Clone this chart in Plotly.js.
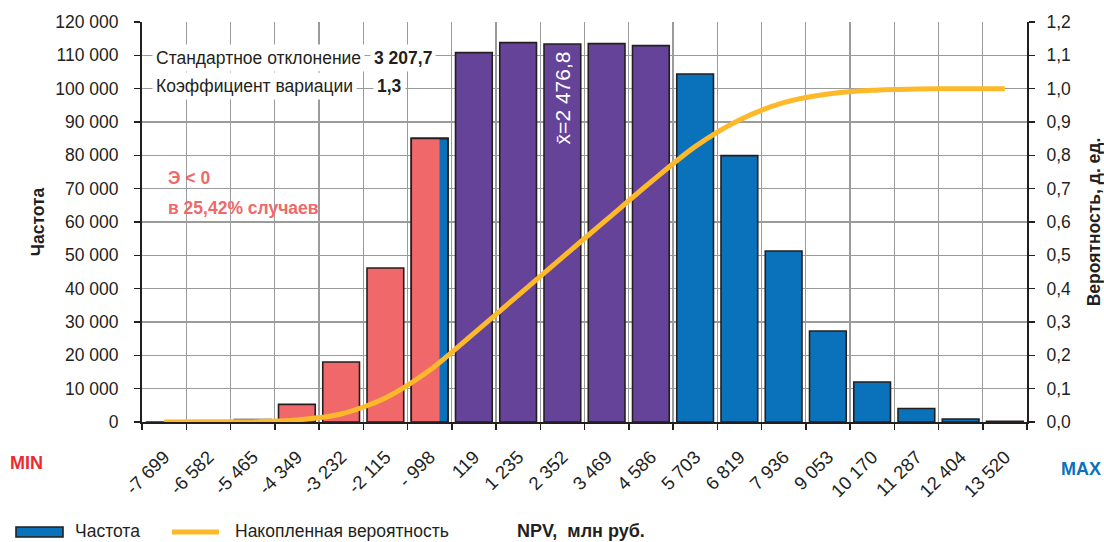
<!DOCTYPE html>
<html>
<head>
<meta charset="utf-8">
<script src="https://cdn.plot.ly/plotly-3.0.1.min.js"></script>
<style>html,body{margin:0;padding:0;background:#fff;}#chart{width:1104px;height:542px;}</style>
</head>
<body>
<div id="chart"></div>
<script>
// ---- data ----
const categories = ['-7 699','-6 582','-5 465','-4 349','-3 232','-2 115','- 998','119','1 235','2 352','3 469','4 586','5 703','6 819','7 936','9 053','10 170','11 287','12 404','13 520'];
const frequency = [0, 60, 700, 5300, 18000, 46200, 85100, 110800, 113800, 113400, 113500, 112900, 104400, 79900, 51300, 27300, 12000, 4050, 900, 200];
// group of each bin: n = NPV<0, s = split bin, m = within one sigma of the mean, p = positive tail
const binGroup = ['n','n','n','n','n','n','s','m','m','m','m','m','p','p','p','p','p','p','p','p'];
const cumulativeProb = [0, 0.0005, 0.001, 0.006, 0.024, 0.072, 0.155, 0.266, 0.38, 0.494, 0.607, 0.72, 0.826, 0.906, 0.958, 0.984, 0.995, 0.999, 1.0, 1.0];
const negativeShareOfSplitBin = 0.77;
const stdDevText = '3 207,7';
const cvText = '1,3';
const meanText = 'x̄=2 476,8';
const lossText1 = 'Э < 0';
const lossText2 = 'в 25,42% случаев';
const freqName = 'Частота';
const cumName = 'Накопленная вероятность';
const xTitle = 'NPV,\u00a0 млн руб.';

// ---- styles ----
const RED = '#F0686A', PURPLE = '#654399', BLUE = '#0A72BA', YELLOW = '#FDB92A', DARK = '#231F20', GRID = '#9B9B9B';
const FONT = 'Liberation Sans, Arial, sans-serif';
const colorOf = {n: RED, s: 'rgba(0,0,0,0)', m: PURPLE, p: BLUE};
const barW = 0.83;
const splitIdx = binGroup.indexOf('s');

const outline = {color: DARK, width: 1.6};

const traces = [
  { // blue (positive) part of the split bin
    type: 'bar', name: freqName, x: [categories[splitIdx]], y: [frequency[splitIdx]],
    width: barW, offset: -barW / 2,
    marker: {color: BLUE, line: outline}, showlegend: false, hoverinfo: 'skip'
  },
  { // red (negative) part of the split bin
    type: 'bar', name: 'Э<0', x: [categories[splitIdx]], y: [frequency[splitIdx]],
    width: barW * negativeShareOfSplitBin, offset: -barW / 2,
    marker: {color: RED, line: {width: 0}}, showlegend: false, hoverinfo: 'skip'
  },
  { // all histogram bars
    type: 'bar', name: freqName, x: categories, y: frequency,
    width: barW, offset: -barW / 2,
    marker: {color: binGroup.map(g => colorOf[g]), line: outline}, showlegend: false
  },
  {
    type: 'scatter', mode: 'lines', name: cumName,
    x: categories, y: cumulativeProb, yaxis: 'y2', showlegend: false,
    line: {color: YELLOW, width: 5, shape: 'spline', smoothing: 0.8}
  }
];

const tickFont = {family: FONT, size: 17.5, color: DARK};
const titleFont = {family: FONT, size: 17.5, color: DARK, weight: 'bold'};
const textFont = {family: FONT, size: 17.5, color: DARK};

// pixel -> paper helpers for the plot box (l=142, w=885, t=22, h=400)
const px = v => (v - 142) / 885;
const py = v => (422 - v) / 400;

const layout = {
  width: 1104, height: 542,
  margin: {l: 142, r: 77, t: 22, b: 120, autoexpand: false},
  paper_bgcolor: '#fff', plot_bgcolor: '#fff',
  barmode: 'overlay',
  showlegend: false,
  font: {family: FONT, size: 17, color: DARK},
  separators: ', ',
  xaxis: {
    type: 'category', categoryorder: 'array', categoryarray: categories,
    tickson: 'boundaries', range: [-0.5, 19.5], automargin: false,
    tickangle: -45, tickfont: {family: FONT, size: 18.5, color: DARK}, ticklabelstandoff: 15,
    ticks: 'outside', ticklen: 6, tickwidth: 1.5, tickcolor: DARK,
    showgrid: true, gridcolor: GRID, gridwidth: 1.3,
    showline: true, linecolor: DARK, linewidth: 2
  },
  yaxis: {
    range: [0, 120000], dtick: 10000, tickformat: ',.0f', automargin: false,
    tickfont: tickFont, ticklabelstandoff: 12,
    ticks: 'outside', ticklen: 6, tickwidth: 1.5, tickcolor: DARK,
    showgrid: true, gridcolor: GRID, gridwidth: 1.3, zeroline: false,
    showline: true, linecolor: DARK, linewidth: 2,
    title: {text: freqName, font: titleFont, standoff: 6}
  },
  yaxis2: {
    overlaying: 'y', side: 'right', range: [0, 1.2], dtick: 0.1, tickformat: '.1f', automargin: false,
    tickfont: tickFont, ticklabelstandoff: 8,
    ticks: 'outside', ticklen: 6, tickwidth: 1.5, tickcolor: DARK,
    showgrid: false, zeroline: false,
    showline: true, linecolor: DARK, linewidth: 2,
    title: {text: 'Вероятность, д. ед.', font: titleFont, standoff: 23}
  },
  shapes: [
    // white backing box behind the "Э < 0" note
    {type: 'rect', layer: 'between', xref: 'paper', yref: 'paper',
     x0: px(158), x1: px(334), y0: py(229), y1: py(159), fillcolor: '#fff', line: {width: 0}},
    // legend swatches
    {type: 'rect', xref: 'paper', yref: 'paper',
     x0: px(16), x1: px(63), y0: py(537), y1: py(527), fillcolor: BLUE, line: {color: DARK, width: 1.6}},
    {type: 'line', xref: 'paper', yref: 'paper',
     x0: px(172), x1: px(219), y0: py(532), y1: py(532), line: {color: YELLOW, width: 5}}
  ],
  annotations: [
    {xref: 'paper', yref: 'y', x: px(152), y: 109200, xanchor: 'left', yanchor: 'middle', showarrow: false,
     text: 'Стандартное отклонение', font: textFont, bgcolor: '#fff', borderpad: 3},
    {xref: 'paper', yref: 'y', x: px(370), y: 109200, xanchor: 'left', yanchor: 'middle', showarrow: false,
     text: '<b>' + stdDevText + '</b>', font: textFont, bgcolor: '#fff', borderpad: 3},
    {xref: 'paper', yref: 'y', x: px(152), y: 100800, xanchor: 'left', yanchor: 'middle', showarrow: false,
     text: 'Коэффициент вариации', font: textFont, bgcolor: '#fff', borderpad: 3},
    {xref: 'paper', yref: 'y', x: px(373), y: 100800, xanchor: 'left', yanchor: 'middle', showarrow: false,
     text: '<b>' + cvText + '</b>', font: textFont, bgcolor: '#fff', borderpad: 3},
    {xref: 'paper', yref: 'y', x: px(166), y: 73200, xanchor: 'left', yanchor: 'middle', showarrow: false,
     text: '<b>' + lossText1 + '</b>', font: {family: FONT, size: 17.5, color: RED}},
    {xref: 'paper', yref: 'y', x: px(166), y: 64200, xanchor: 'left', yanchor: 'middle', showarrow: false,
     text: '<b>' + lossText2 + '</b>', font: {family: FONT, size: 17.5, color: RED}},
    {xref: 'x', yref: 'y', x: categories[9], y: 97200, showarrow: false, textangle: -90,
     text: meanText, font: {family: FONT, size: 21, color: '#fff'}},
    {xref: 'paper', yref: 'paper', x: px(8), y: py(463), xanchor: 'left', yanchor: 'middle', showarrow: false,
     text: '<b>MIN</b>', font: {family: FONT, size: 18, color: '#EE2A2E'}},
    {xref: 'paper', yref: 'paper', x: px(1103), y: py(469), xanchor: 'right', yanchor: 'middle', showarrow: false,
     text: '<b>MAX</b>', font: {family: FONT, size: 18, color: BLUE}},
    // x-axis title and legend texts
    {xref: 'paper', yref: 'paper', x: px(581), y: py(531), xanchor: 'center', yanchor: 'middle', showarrow: false,
     text: '<b>' + xTitle + '</b>', font: {family: FONT, size: 18, color: DARK}},
    {xref: 'paper', yref: 'paper', x: px(73), y: py(531), xanchor: 'left', yanchor: 'middle', showarrow: false,
     text: freqName, font: textFont},
    {xref: 'paper', yref: 'paper', x: px(233), y: py(531), xanchor: 'left', yanchor: 'middle', showarrow: false,
     text: cumName, font: textFont}
  ]
};

Plotly.newPlot('chart', traces, layout, {displayModeBar: false, staticPlot: true});
</script>
</body>
</html>
